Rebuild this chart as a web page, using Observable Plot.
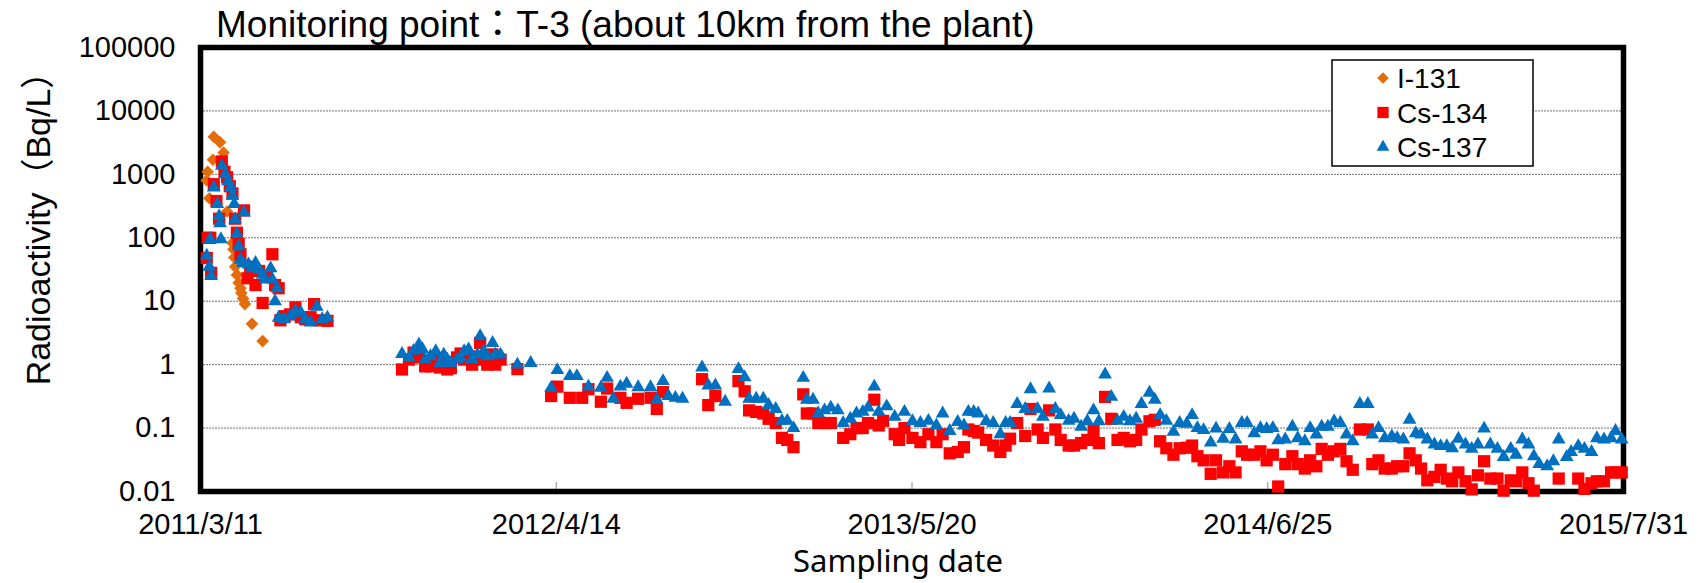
<!DOCTYPE html>
<html><head><meta charset="utf-8">
<script src="https://cdn.jsdelivr.net/npm/d3@7"></script>
<script src="https://cdn.jsdelivr.net/npm/@observablehq/plot@0.6"></script>
<style>body{margin:0;background:#fff} svg{display:block}</style>
</head><body><div id="chart"></div>
<script>
// ---------- data ----------
const chartTitle = "Monitoring point：T-3 (about 10km from the plant)";
const yTitle = "Radioactivity（Bq/L）";
const xTitle = "Sampling date";
const seriesNames = ["I-131", "Cs-134", "Cs-137"];
const startDate = "2011-03-11";
const endDate = "2015-07-31";
const xTickLabels = ["2011/3/11", "2012/4/14", "2013/5/20", "2014/6/25", "2015/7/31"];
const yTickLabels = ["0.01", "0.1", "1", "10", "100", "1000", "10000", "100000"];

// [days since 2011-03-11, Bq/L]
const i131 = [[7,800],[8,1100],[10,420],[14,1700],[15,3900],[22,3200],[26,2200],[30,260],[36,83],[37,66],[38,49],[39,35],[41,26],[43,19.5],[45,16],[46,13.5],[48,11],[50,9],[58,4.4],[70,2.35]];

const cs134 = [[7,48],[8,100],[11,100],[12,28],[15,700],[18,380],[21,200],[24,1600],[27,1100],[30,900],[33,650],[36,500],[39,200],[41,120],[43,80],[45,55],[49,270],[53,23],[56,35],[62,18],[66,30],[70,9.4],[75,25],[81,55],[84,18],[88,16],[90,5.0],[95,5.8],[101,6.2],[107,8.0],[113,5.6],[118,5.2],[124,5.6],[128,9.0],[134,5.0],[143,4.9],
[227,0.84],[235,1.2],[240,1.55],[246,1.3],[253,0.94],[259,0.94],[265,1.2],[270,0.9],[274,1.1],[278,0.84],[282,0.88],[289,1.3],[293,1.5],[297,1.2],[302,1.36],[306,1.0],[312,1.3],[315,2.2],[319,1.2],[323,1.0],[329,1.45],[332,1.0],[338,1.2],[357,0.85],
[395,0.32],[402,0.45],[416,0.30],[430,0.30],[437,0.41],[451,0.26],[458,0.42],[473,0.30],[480,0.25],[493,0.29],[507,0.30],[514,0.20],[521,0.37],[565,0.59],[572,0.23],[580,0.32],[606,0.55],[613,0.38],[618,0.19],[626,0.18],[634,0.17],[640,0.14],[648,0.12],[655,0.07],[661,0.065],[668,0.05],[679,0.34],[683,0.17],[690,0.17],[696,0.12],[703,0.12],[710,0.12],[724,0.07],[732,0.08],[739,0.10],[746,0.10],[752,0.12],[759,0.28],[764,0.11],
[769,0.13],[782,0.08],[787,0.065],[793,0.10],[802,0.07],[811,0.06],[820,0.08],[829,0.06],[836,0.08],[844,0.04],[853,0.042],[860,0.05],[865,0.095],[871,0.09],[876,0.085],[885,0.065],[893,0.053],[901,0.042],[907,0.053],[912,0.068],[920,0.12],[929,0.075],[935,0.20],[943,0.095],[949,0.07],[956,0.19],[963,0.095],[969,0.065],[978,0.053],[984,0.053],[992,0.058],[999,0.065],[1006,0.09],[1012,0.058],[1019,0.31],[1026,0.14],[1033,0.065],[1040,0.07],[1047,0.062],[1054,0.065],[1060,0.095],[1069,0.128],[1075,0.135],[1081,0.062],[1088,0.048],[1096,0.038],[1103,0.048],[1111,0.049],[1117,0.053],[1123,0.036],[1130,0.031],[1138,0.019],[1144,0.031],[1152,0.02],[1159,0.025],[1166,0.02],[1173,0.043],[1179,0.038],[1187,0.038],[1194,0.043],[1201,0.031],[1208,0.038],[1214,0.012],[1222,0.027],[1230,0.036],[1236,0.027],[1244,0.023],[1250,0.031],[1257,0.025],[1263,0.047],[1270,0.038],[1277,0.043],[1284,0.047],[1291,0.030],[1298,0.022],[1306,0.095],[1315,0.095],[1320,0.027],[1327,0.031],[1334,0.023],[1342,0.023],[1348,0.025],[1355,0.025],[1362,0.04],[1369,0.031],[1375,0.023],[1382,0.015],[1390,0.017],[1397,0.022],[1404,0.016],[1410,0.0145],[1417,0.02],[1425,0.0145],[1432,0.0108],[1439,0.018],[1446,0.030],[1453,0.016],[1461,0.016],[1468,0.0103],[1476,0.015],[1482,0.0145],[1489,0.02],[1496,0.0135],[1502,0.0103],[1530,0.016],[1552,0.016],[1559,0.011],[1567,0.0135],[1573,0.0145],[1581,0.0145],[1589,0.02],[1594,0.02],[1601,0.02]];

const cs137 = [[7,52],[10,35],[11,95],[12,25],[15,620],[19,340],[21,220],[22,170],[23,95],[24,1360],[28,1000],[31,780],[34,620],[36,460],[38,340],[39,195],[41,115],[43,73],[45,45],[48,40],[49,250],[54,38],[58,33],[62,40],[66,31],[70,26],[73,22],[79,33],[81,22],[84,10],[86,16],[88,5.5],[94,5.2],[101,5.8],[107,7.0],[113,6.6],[118,5.2],[124,4.6],[131,8.2],[137,5.2],[143,5.5],
[227,1.47],[235,1.28],[240,1.65],[246,2.07],[250,1.75],[253,1.2],[259,1.36],[265,1.63],[270,1.06],[274,1.44],[278,1.2],[282,1.06],[289,1.2],[293,1.28],[297,1.63],[302,1.73],[306,1.2],[312,1.44],[315,2.8],[319,1.63],[323,1.36],[329,2.2],[332,1.44],[338,1.44],[357,1.0],[372,1.06],
[395,0.43],[402,0.82],[416,0.66],[424,0.66],[437,0.45],[451,0.43],[458,0.62],[465,0.29],[473,0.45],[480,0.50],[493,0.44],[507,0.44],[514,0.28],[521,0.55],[527,0.32],[535,0.30],[543,0.29],[565,0.90],[572,0.47],[580,0.47],[591,0.26],[606,0.85],[613,0.63],[618,0.29],[626,0.29],[634,0.29],[640,0.23],[648,0.20],[655,0.13],[661,0.13],[668,0.10],[679,0.62],[683,0.28],[690,0.28],[696,0.17],[703,0.19],[710,0.21],[718,0.19],[724,0.12],[732,0.14],[739,0.17],[746,0.18],[752,0.21],[759,0.45],[764,0.18],
[773,0.22],[782,0.15],[793,0.18],[802,0.128],[811,0.12],[820,0.13],[829,0.11],[836,0.17],[844,0.09],[853,0.125],[860,0.11],[865,0.18],[871,0.18],[876,0.17],[885,0.128],[893,0.12],[901,0.08],[907,0.12],[912,0.12],[920,0.24],[929,0.20],[935,0.41],[943,0.20],[949,0.15],[956,0.42],[963,0.20],[969,0.16],[978,0.13],[984,0.14],[992,0.105],[999,0.128],[1006,0.19],[1012,0.128],[1019,0.70],[1026,0.31],[1033,0.13],[1040,0.15],[1047,0.128],[1054,0.14],[1060,0.24],[1069,0.36],[1075,0.28],[1081,0.16],[1088,0.13],[1096,0.087],[1103,0.12],[1111,0.117],[1117,0.16],[1123,0.10],[1130,0.093],[1138,0.059],[1144,0.098],[1152,0.068],[1159,0.097],[1166,0.066],[1173,0.12],[1179,0.12],[1187,0.083],[1194,0.10],[1201,0.097],[1208,0.10],[1214,0.064],[1222,0.066],[1230,0.105],[1236,0.069],[1244,0.062],[1250,0.10],[1257,0.079],[1263,0.105],[1270,0.105],[1277,0.128],[1284,0.12],[1291,0.079],[1298,0.062],[1306,0.24],[1315,0.24],[1320,0.079],[1327,0.10],[1334,0.069],[1342,0.074],[1348,0.069],[1355,0.066],[1362,0.135],[1369,0.083],[1375,0.079],[1382,0.066],[1390,0.055],[1397,0.052],[1404,0.052],[1410,0.048],[1417,0.068],[1425,0.055],[1432,0.047],[1439,0.055],[1446,0.098],[1453,0.055],[1461,0.047],[1468,0.035],[1476,0.047],[1482,0.038],[1489,0.066],[1496,0.055],[1502,0.036],[1508,0.027],[1517,0.025],[1524,0.030],[1530,0.066],[1539,0.035],[1544,0.042],[1552,0.052],[1559,0.047],[1567,0.042],[1573,0.069],[1581,0.066],[1589,0.069],[1594,0.09],[1601,0.066]];

const seriesColors = ["#E46C0A", "#FF0000", "#0070C0"];
const seriesSymbols = ["diamond2", "square", "triangle"];
const seriesR = [5.7, 6.9, 5.1];

// ---------- build ----------
const FONT = "'Liberation Sans', Arial, 'Noto Sans CJK JP', sans-serif";
const t0 = Date.parse(startDate + "T00:00:00Z");
const t1 = Date.parse(endDate + "T00:00:00Z");
const DAY = 864e5;
const rows = (pairs) => pairs.map(([d, v]) => ({date: new Date(t0 + d * DAY), value: v}));
const tickDates = xTickLabels.map((_, i) => new Date(t0 + (t1 - t0) * i / (xTickLabels.length - 1)));
const xLabelOf = new Map(tickDates.map((d, i) => [+d, xTickLabels[i]]));
const yTicks = yTickLabels.map(Number);
const yLabelOf = new Map(yTicks.map((v, i) => [v, yTickLabels[i]]));
const seriesData = [i131, cs134, cs137];

const W = 1700, H = 583;
const plot = Plot.plot({
  width: W, height: H,
  marginLeft: 200, marginRight: 77, marginTop: 47, marginBottom: 92,
  style: {fontFamily: FONT, background: "#fff", overflow: "visible", color: "#000"},
  x: {type: "utc", domain: [new Date(t0), new Date(t1)]},
  y: {type: "log", domain: [yTicks[0], yTicks[yTicks.length - 1]]},
  marks: [
    Plot.gridY(yTicks.slice(1, -1), {stroke: "#707070", strokeOpacity: 1, strokeWidth: 1, strokeDasharray: "2,1"}),
    Plot.axisX(tickDates, {tickSize: -9, stroke: "#8c8c8c", tickFormat: () => "", label: null}),
    Plot.axisX(tickDates, {tickSize: 0, tickPadding: 22, fontSize: 29, fill: "#000", tickFormat: d => xLabelOf.get(+d), label: null}),
    Plot.axisY(yTicks, {tickSize: 0, tickPadding: 25, fontSize: 29, fill: "#000", tickFormat: d => yLabelOf.get(d), label: null}),
    Plot.frame({stroke: "#000", strokeWidth: 5.5}),
    ...seriesData.map((s, i) => Plot.dot(rows(s), {x: "date", y: "value", symbol: seriesSymbols[i], r: seriesR[i], fill: seriesColors[i], stroke: null}))
  ]
});
document.getElementById("chart").append(plot);

const svg = d3.select(plot);
// title
svg.append("text").attr("x", 216).attr("y", 37).attr("text-anchor", "start").attr("font-size", 37)
  .attr("font-family", FONT).attr("fill", "#000").text(chartTitle);
// y title
svg.append("text").attr("transform", "translate(38,220) rotate(-90)").attr("text-anchor", "middle").attr("dy", "0.35em")
  .attr("font-size", 34).attr("font-family", FONT).attr("fill", "#000").text(yTitle);
// x title
svg.append("text").attr("x", 898).attr("y", 572).attr("text-anchor", "middle")
  .attr("font-size", 31).attr("font-family", "'Noto Sans', 'Open Sans', sans-serif").attr("fill", "#000").text(xTitle);
// legend
const lg = svg.append("g");
lg.append("rect").attr("x", 1332).attr("y", 60).attr("width", 201).attr("height", 106)
  .attr("fill", "#fff").attr("stroke", "#000").attr("stroke-width", 1.5);
const d3Sym = {diamond2: d3.symbolDiamond2, square: d3.symbolSquare, triangle: d3.symbolTriangle};
seriesNames.forEach((name, i) => {
  const cy = 78 + i * 34.5;
  lg.append("path").attr("transform", `translate(1383,${cy})`)
    .attr("d", d3.symbol(d3Sym[seriesSymbols[i]], Math.PI * seriesR[i] * seriesR[i] * 0.85)())
    .attr("fill", seriesColors[i]);
  lg.append("text").attr("x", 1397).attr("y", cy).attr("dy", "0.36em").attr("text-anchor", "start").attr("font-size", 28)
    .attr("font-family", FONT).attr("fill", "#000").text(name);
});
</script>
</body></html>
